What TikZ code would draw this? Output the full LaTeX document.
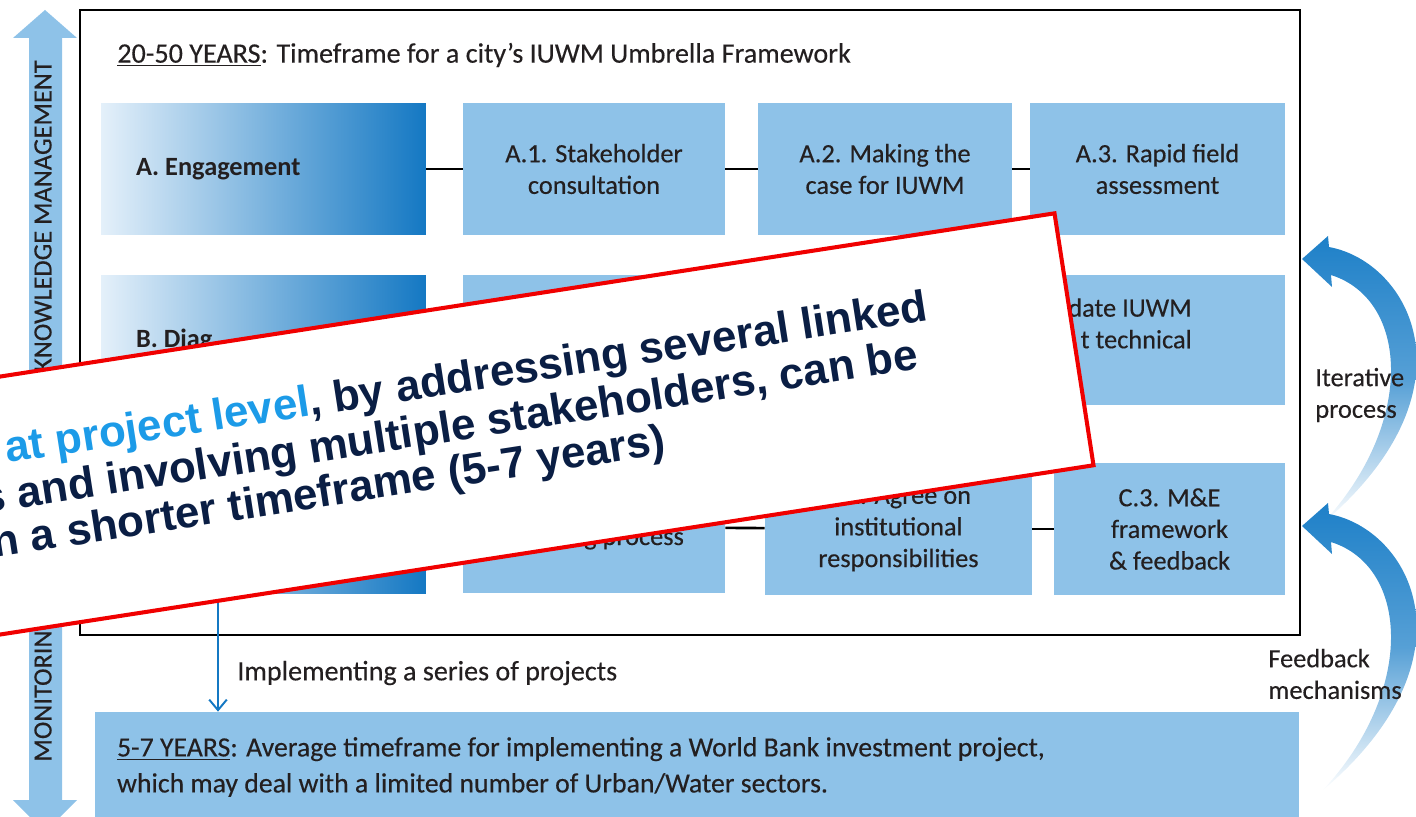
\documentclass[tikz,border=0pt]{standalone}
\usepackage{fontspec}
\setmainfont{Carlito}[UprightFeatures={FakeBold=0.3}]
\newfontfamily\calloutfont{Liberation Sans}
\usetikzlibrary{arrows.meta, positioning}

\definecolor{boxblue}{RGB}{142,194,232}
\definecolor{deepblue}{RGB}{20,120,195}
\definecolor{paleblue}{RGB}{228,240,250}
\definecolor{arrowblue}{RGB}{30,128,200}
\definecolor{navy}{RGB}{10,30,68}
\definecolor{brightblue}{RGB}{28,155,232}
\definecolor{textgrey}{RGB}{35,31,32}
\definecolor{alertred}{RGB}{240,0,0}

\newcommand{\stepfont}{\fontsize{15}{18}\selectfont}
\newcommand{\headfont}{\fontsize{16}{20.5}\selectfont}
\newcommand{\calloutsize}{\fontsize{25}{26}\selectfont}

\tikzset{
  stepbox/.style={fill=boxblue, inner sep=0pt, minimum height=2.64cm, align=center, text=textgrey, font=\stepfont},
  phasebox/.style={left color=paleblue, right color=deepblue, inner sep=0pt, minimum width=6.5cm, minimum height=2.64cm, text width=5.1cm, align=flush left, text=textgrey, font=\stepfont\bfseries},
  link/.style={line width=1.5pt},
  sidenote/.style={align=left, inner sep=0pt, text=textgrey, font=\stepfont},
  calloutline/.style={rotate=8.8, anchor=base west, inner sep=0pt, text=navy, font=\calloutfont\bfseries\calloutsize},
  loopshape/.style={top color=arrowblue, bottom color=white, middle color=arrowblue!75}
}

\begin{document}
\begin{tikzpicture}[x=0.02cm, y=-0.02cm]
\useasboundingbox (0,0) rectangle (1416,817);

% Monitoring and knowledge arrow
\fill[boxblue] (45,10) -- (77,38) -- (62,38) -- (62,800) -- (77,800) -- (45,832) -- (13,800) -- (29,800) -- (29,38) -- (13,38) -- cycle;
\node[sidenote, rotate=90, anchor=west] (monitor) at (43,762) {MONITORING};
\node[sidenote, rotate=90, anchor=east] (knowledge) at (43,60) {KNOWLEDGE MANAGEMENT};

% Umbrella framework
\draw[line width=1.5pt] (80,10) rectangle (1300,635);
\node[anchor=west, inner sep=0pt, text=textgrey, font=\headfont] (title) at (117,55) {\underline{20-50 YEARS}: Timeframe for a city's IUWM Umbrella Framework};

% Row A
\node[phasebox] (engage) at (263.5,169) {A. Engagement};
\node[stepbox, minimum width=5.24cm] (a1) at (594,169) {A.1. Stakeholder\\consultation};
\node[stepbox, minimum width=5.08cm] (a2) at (885,169) {A.2. Making the\\case for IUWM};
\node[stepbox, minimum width=5.1cm] (a3) at (1157.5,169) {A.3. Rapid field\\assessment};
\draw[link] (engage) -- (a1);
\draw[link] (a1) -- (a2);
\draw[link] (a2) -- (a3);

% Row B
\node[phasebox, minimum height=2.6cm] (diagnose) at (263.5,340) {B. Diag};
\node[stepbox, minimum height=2.6cm, minimum width=5.24cm] (b1) at (594,340) {};
\node[stepbox, minimum height=2.6cm, minimum width=5.08cm] (b2) at (885,340) {};
\node[stepbox, minimum height=2.6cm, minimum width=5.1cm] (b3) at (1157.5,340) {};
\node[sidenote, align=right, anchor=north east] (b3text) at (1192,298) {date IUWM\\t technical};
\draw[link] (diagnose) -- (b1);
\draw[link] (b1) -- (b2);
\draw[link] (b2) -- (b3);

% Row C
\node[phasebox] (deliver) at (263.5,528) {};
\node[stepbox, minimum width=5.24cm] (c1) at (594,527) {};
\node[sidenote, anchor=base] (c1text) at (594,545) {planning process};
\node[stepbox, minimum width=5.34cm] (c2) at (898.5,529) {C.2. Agree on\\institutional\\responsibilities};
\node[stepbox, minimum width=4.62cm] (c3) at (1169.5,529) {C.3. M\&E\\framework\\\& feedback};
\draw[link] (deliver) -- (c1);
\draw[link] (c1) -- (c2);
\draw[link] (c2) -- (c3);

% Investment project
\node[fill=boxblue, minimum width=24.08cm, minimum height=2.2cm, inner sep=0pt, text width=23.2cm, align=flush left, text=textgrey, font=\fontsize{15.8}{20.5}\selectfont] (project) at (697,767) {\underline{5-7 YEARS}: Average timeframe for implementing a World Bank investment project,\\which may deal with a limited number of Urban/Water sectors.};
\coordinate (drop) at (218,594);
\draw[deepblue, line width=1.1pt, -{Straight Barb[length=6pt,width=10pt]}] (drop) -- (drop |- project.north);
\node[sidenote, anchor=west, font=\headfont] (series) at (237,673) {Implementing a series of projects};

% Loops on the right
\foreach \dy in {0,267}
  \shade[loopshape, shift={(0,\dy)}] (1302,259) -- (1328,236) -- (1329,247) .. controls (1410,262) and (1480,390) .. (1322,524) .. controls (1415,425) and (1410,300) .. (1331,275) -- (1332,287) -- cycle;
\node[sidenote, anchor=west] (iterate) at (1315,395) {Iterative\\process};
\node[sidenote, anchor=west] (feedback) at (1268,674) {Feedback\\mechanisms};

% Callout on top
\node[draw=alertred, line width=2.3pt, fill=white, rotate=8.8, anchor=east, minimum width=28cm, minimum height=5.1cm, inner sep=0pt] (callout) at (1076,339) {};
\node[calloutline] (line1) at (7,463) {\textcolor{brightblue}{at project level}, by addressing several linked};
\node[calloutline] (line2) at (-17,514) {s and involving multiple stakeholders, can be};
\node[calloutline] (line3) at (-6,558) {n a shorter timeframe (5-7 years)};
\end{tikzpicture}
\end{document}
